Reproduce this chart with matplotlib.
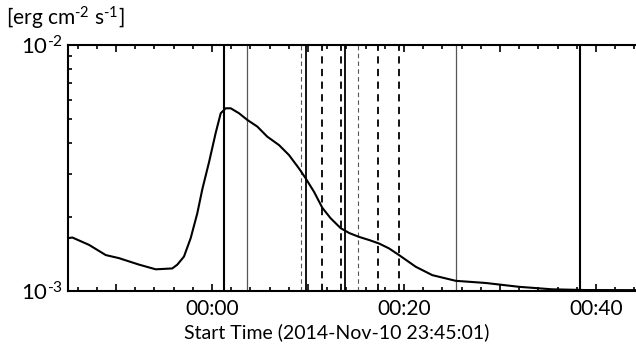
import matplotlib
matplotlib.use("Agg")
import matplotlib.pyplot as plt
from matplotlib.ticker import MultipleLocator, FixedLocator, FuncFormatter, LogLocator, NullFormatter

plt.rcParams["font.family"] = ["Lato", "DejaVu Sans"]
plt.rcParams["mathtext.fontset"] = "custom"
plt.rcParams["mathtext.rm"] = "Lato"
plt.rcParams["mathtext.it"] = "Lato"
plt.rcParams["mathtext.default"] = "regular"

# minutes after 2014-11-11 00:00 UT, GOES 1-8 A flux
t_min = [-14.98, -14.55, -12.81, -11.07, -9.69, -7.60, -5.86, -4.14, -3.61,
         -2.92, -2.22, -1.53, -1.0, -0.3, 0.39, 0.91, 1.43, 1.95, 2.81,
         3.68, 4.72, 5.76, 6.98, 8.02, 9.06, 9.76, 10.63, 11.49, 12.36,
         13.41, 14.3, 15.31, 16.4, 17.40, 18.44, 19.48, 20.3, 21.22, 22.95,
         25.39, 28.51, 31.98, 35.42, 38.93, 44.1]
flux = [1.64e-3, 1.65e-3, 1.54e-3, 1.40e-3, 1.36e-3, 1.28e-3, 1.225e-3,
        1.235e-3, 1.28e-3, 1.38e-3, 1.64e-3, 2.07e-3, 2.6e-3, 3.35e-3,
        4.4e-3, 5.28e-3, 5.53e-3, 5.53e-3, 5.28e-3, 4.96e-3, 4.66e-3,
        4.24e-3, 3.92e-3, 3.57e-3, 3.15e-3, 2.87e-3, 2.53e-3, 2.18e-3,
        1.975e-3, 1.80e-3, 1.72e-3, 1.66e-3, 1.61e-3, 1.56e-3, 1.49e-3,
        1.40e-3, 1.33e-3, 1.255e-3, 1.16e-3, 1.10e-3, 1.078e-3, 1.04e-3,
        1.016e-3, 1.009e-3, 1.008e-3]

# marker times (minutes) and their line styles
solid_thick = [1.25, 38.33]
solid_mid = [9.76, 13.82]
solid_thin = [3.61, 25.39]
dashed_thick = [11.43, 13.41, 17.32, 19.48]
dashed_thin = [9.24, 15.24]

fig = plt.figure(figsize=(6.36, 3.44), dpi=100)
ax = fig.add_axes([68 / 636, 53 / 344, 568 / 636, 246 / 344])

for t in solid_thick:
    ax.axvline(t, color="black", lw=1.5)
for t in solid_mid:
    ax.axvline(t, color="black", lw=1.3)
for t in solid_thin:
    ax.axvline(t, color="#555555", lw=0.9)
for t in dashed_thick:
    ax.axvline(t, color="black", lw=1.3, ls=(0, (4, 3)))
for t in dashed_thin:
    ax.axvline(t, color="#555555", lw=0.8, ls=(0, (4, 3)))

ax.plot(t_min, flux, color="black", lw=1.5)

ax.set_yscale("log")
ax.set_ylim(1e-3, 1e-2)
ax.set_xlim(-15.0, 44.17)

ax.xaxis.set_major_locator(MultipleLocator(10))
ax.xaxis.set_minor_locator(MultipleLocator(2))
ax.xaxis.set_major_formatter(FuncFormatter(
    lambda v, p: "00:%02d" % v if round(v) in (0, 20, 40) else ""))
ax.yaxis.set_major_locator(FixedLocator([1e-3, 1e-2]))
ax.yaxis.set_major_formatter(FuncFormatter(
    lambda v, p: {1e-3: r"10$^{\text{-3}}$", 1e-2: r"10$^{\text{-2}}$"}.get(v, "")))
ax.yaxis.set_minor_locator(LogLocator(base=10, subs=range(2, 10)))
ax.yaxis.set_minor_formatter(NullFormatter())

ax.tick_params(which="both", direction="in", top=True, right=False,
               width=1.2, labelsize=15, pad=6)
ax.tick_params(which="major", length=5)
ax.tick_params(which="minor", length=3)
ax.tick_params(axis="y", pad=4, labelsize=16)

for side in ["left", "bottom", "top"]:
    ax.spines[side].set_linewidth(1.5)
ax.spines["right"].set_visible(False)

fig.text(337 / 636, 1 - 332 / 344, "Start Time (2014-Nov-10 23:45:01)",
         ha="center", va="center", fontsize=14)
fig.text(6 / 636, 1 - 18 / 344, r"[erg cm$^{\text{-2}}$ s$^{\text{-1}}$]",
         ha="left", va="center", fontsize=15)

fig.savefig("out.png", dpi=100)
